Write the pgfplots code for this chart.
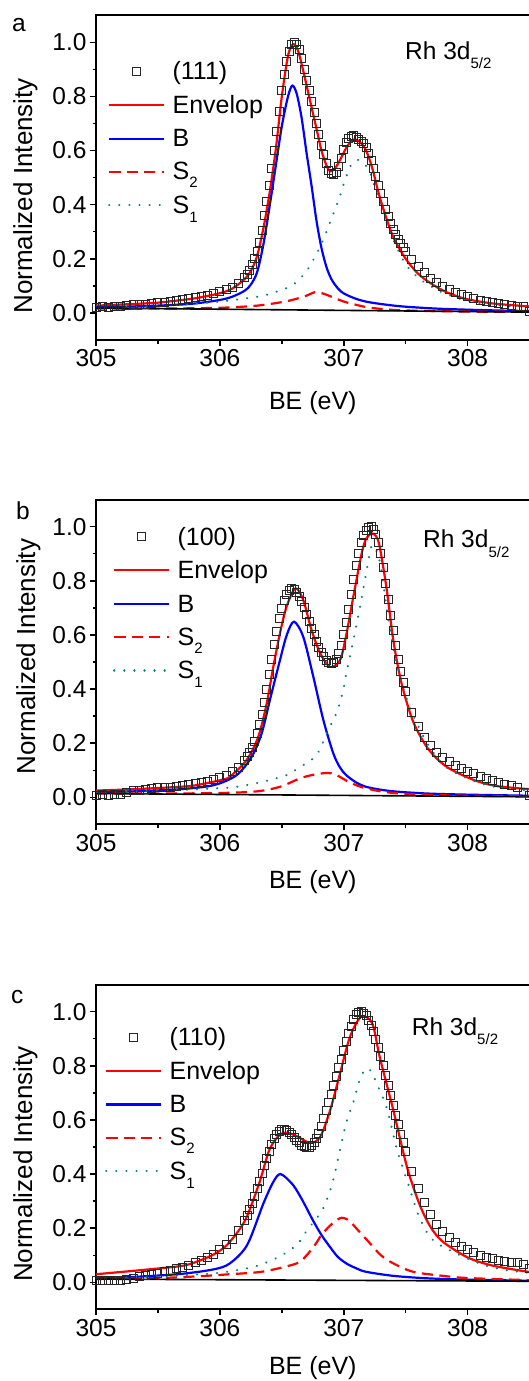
\documentclass[border=0pt]{standalone}
\usepackage{fontspec}
\setmainfont{Liberation Sans}
\usepackage{pgfplots}
\pgfplotsset{compat=1.18}
\definecolor{tealA}{RGB}{0,128,128}
\newcommand{\sub}[2][-8pt]{\raisebox{#1}{\fontsize{15}{15}\selectfont #2}}
\newcommand{\st}{\rule[-6pt]{0pt}{24pt}}
\pgfplotsset{
 panel/.style={
  scale only axis, width=433.6pt, height=324.8pt,
  xmin=305, xmax=308.5, ymin=-0.1, ymax=1.1,
  xtick={305,306,307,308}, minor x tick num=1,
  ytick={0,0.2,0.4,0.6,0.8,1.0}, minor y tick num=1,
  tick align=outside, xtick pos=left, ytick pos=left,
  major tick length=6pt, minor tick length=3.5pt,
  tick style={line width=1.5pt, black},
  axis line style={line width=2pt},
  /pgf/number format/assume math mode=true,
  tick label style={font=\fontsize{24.5}{29}\selectfont},
  yticklabel style={/pgf/number format/fixed, /pgf/number format/fixed zerofill, /pgf/number format/precision=1},
  xticklabel style={/pgf/number format/1000 sep={}},
  xlabel={BE (eV)}, ylabel={Normalized Intensity},
  xlabel style={font=\fontsize{25}{30}\selectfont, anchor=center},
  ylabel style={font=\fontsize{26}{31}\selectfont, anchor=center},
  legend cell align=left,
  legend style={draw=none, fill=none, inner sep=0pt, outer sep=0pt, anchor=north west,
     font=\fontsize{25}{30}\selectfont, row sep=10pt, column sep=5.3pt, nodes={inner sep=2pt}},
  legend image code/.code={\draw[mark repeat=2,mark phase=2,##1] plot coordinates {(0pt,0pt) (27.5pt,0pt) (55pt,0pt)};},
 },
 dat/.style={only marks, mark=square, mark size=4pt, mark options={line width=1pt, draw=black!85}},
 env/.style={red, line width=2.2pt, smooth, tension=0.5, no marks},
 bb/.style={blue, line width=2.2pt, smooth, tension=0.5, no marks},
 ss2/.style={red, line width=2.2pt, dash pattern=on 11pt off 6.5pt, smooth, tension=0.5, no marks},
 ss1/.style={tealA, line width=2.3pt, line cap=round, dash pattern=on 0.1pt off 10pt, smooth, tension=0.5, no marks},
 bgl/.style={black, line width=1.6pt, no marks, forget plot},
}
\begin{document}
\begin{tikzpicture}
\useasboundingbox (0pt,0pt) rectangle (528pt,-1381pt);
% ---------------- panel a ----------------
\begin{axis}[panel, at={(96pt,-340pt)}, anchor=south west,
  xlabel style={at={(axis description cs:0.5,-0.1945)}},
  ylabel style={at={(axis description cs:-0.163,0.444)}},
  legend style={at={(axis description cs:0.0277,0.863)}}]
\addplot[dat] coordinates {(305.00,0.020)(305.05,0.022)(305.10,0.020)(305.15,0.024)(305.20,0.022)(305.25,0.028)(305.30,0.030)(305.35,0.031)(305.40,0.033)(305.45,0.036)(305.50,0.038)(305.55,0.040)(305.60,0.044)(305.65,0.047)(305.70,0.050)(305.75,0.052)(305.80,0.057)(305.85,0.060)(305.90,0.064)(305.95,0.070)(306.00,0.078)(306.05,0.085)(306.10,0.095)(306.15,0.110)
(306.20,0.130)(306.22,0.142)(306.24,0.158)(306.26,0.178)(306.28,0.200)(306.30,0.228)(306.32,0.262)(306.34,0.305)(306.36,0.360)(306.38,0.410)(306.40,0.470)(306.42,0.535)(306.44,0.600)(306.46,0.670)(306.48,0.745)(306.50,0.820)(306.52,0.880)(306.54,0.930)(306.56,0.965)(306.58,0.990)(306.60,1.000)(306.62,0.993)(306.64,0.972)(306.66,0.940)(306.68,0.900)(306.70,0.860)(306.72,0.820)(306.74,0.780)(306.76,0.740)(306.78,0.700)(306.80,0.660)(306.82,0.620)(306.84,0.585)(306.86,0.552)(306.88,0.528)(306.90,0.515)(306.92,0.512)(306.94,0.520)(306.96,0.540)(306.98,0.570)(307.00,0.602)(307.02,0.628)(307.04,0.645)(307.06,0.653)(307.08,0.655)(307.10,0.650)(307.12,0.642)(307.14,0.635)(307.16,0.625)(307.18,0.610)(307.20,0.590)(307.22,0.565)(307.24,0.535)(307.26,0.505)(307.28,0.472)(307.30,0.440)(307.32,0.410)(307.34,0.382)(307.36,0.357)(307.38,0.332)(307.40,0.310)(307.42,0.290)(307.44,0.272)(307.46,0.255)(307.48,0.240)
(307.50,0.226)(307.55,0.197)(307.60,0.170)(307.65,0.148)(307.70,0.128)(307.75,0.112)(307.80,0.098)(307.85,0.086)(307.90,0.076)(307.95,0.067)(308.00,0.060)(308.05,0.053)(308.10,0.047)(308.15,0.042)(308.20,0.038)(308.25,0.034)(308.30,0.031)(308.35,0.028)(308.40,0.025)(308.45,0.022)(308.50,0.004)};
\addlegendentry{(111)\st}
\addplot[env] coordinates {(305.0,0.027)(305.3,0.033)(305.5,0.038)(305.6,0.043)(305.8,0.054)(306.0,0.073)(306.1,0.090)(306.2,0.125)(306.25,0.155)(306.3,0.21)(306.35,0.31)(306.4,0.44)(306.45,0.60)(306.5,0.80)(306.55,0.95)(306.59,0.993)(306.63,0.97)(306.67,0.90)(306.7,0.84)(306.74,0.76)(306.78,0.68)(306.82,0.60)(306.86,0.545)(306.89,0.523)(306.93,0.535)(306.97,0.565)(307.02,0.61)(307.06,0.635)(307.09,0.641)(307.13,0.632)(307.18,0.60)(307.23,0.535)(307.28,0.445)(307.34,0.355)(307.4,0.28)(307.5,0.20)(307.6,0.145)(307.7,0.11)(307.8,0.083)(307.9,0.064)(308.0,0.050)(308.2,0.035)(308.35,0.029)(308.5,0.024)};
\addlegendentry{Envelop\st}
\addplot[bb] coordinates {(305.0,0.021)(305.3,0.024)(305.6,0.029)(305.8,0.035)(306.0,0.048)(306.1,0.060)(306.2,0.082)(306.25,0.105)(306.3,0.15)(306.35,0.25)(306.4,0.39)(306.45,0.54)(306.5,0.69)(306.55,0.80)(306.585,0.84)(306.62,0.81)(306.66,0.72)(306.7,0.59)(306.74,0.47)(306.78,0.34)(306.82,0.24)(306.86,0.17)(306.9,0.125)(306.95,0.092)(307.0,0.072)(307.1,0.052)(307.2,0.040)(307.35,0.030)(307.5,0.023)(307.75,0.016)(308.0,0.012)(308.25,0.009)(308.5,0.007)};
\addlegendentry{B\st}
\addplot[ss2] coordinates {(305.0,0.016)(305.5,0.016)(306.0,0.019)(306.3,0.027)(306.5,0.040)(306.6,0.050)(306.7,0.064)(306.77,0.077)(306.83,0.072)(306.9,0.060)(307.0,0.042)(307.1,0.030)(307.2,0.020)(307.35,0.013)(307.5,0.009)(308.0,0.005)(308.5,0.004)};
\addlegendentry{S\sub{2}\rule[-14pt]{0pt}{24pt}}
\addplot[ss1] coordinates {(305.0,0.018)(305.5,0.025)(305.85,0.036)(306.0,0.042)(306.2,0.053)(306.35,0.064)(306.5,0.085)(306.6,0.107)(306.7,0.155)(306.8,0.235)(306.86,0.30)(306.91,0.36)(306.96,0.42)(307.01,0.49)(307.05,0.54)(307.1,0.565)(307.14,0.56)(307.2,0.53)(307.27,0.44)(307.35,0.33)(307.42,0.25)(307.5,0.18)(307.6,0.13)(307.7,0.10)(307.8,0.075)(308.0,0.044)(308.2,0.031)(308.5,0.02)};
\addlegendentry{S\sub[-9pt]{1}\st}
\addplot[bgl] coordinates {(305,0.018)(308.5,0.003)};
\node[anchor=base west, inner sep=0pt, font=\fontsize{24.5}{29}\selectfont] at (axis description cs:0.7126,0.8645) {Rh 3d\sub[-9.5pt]{5/2}};
\end{axis}
% ---------------- panel b ----------------
\begin{axis}[panel, at={(96pt,-824.4pt)}, anchor=south west,
  xlabel style={at={(axis description cs:0.5,-0.177)}},
  ylabel style={at={(axis description cs:-0.156,0.517)}},
  legend style={at={(axis description cs:0.0392,0.922)}}]
\addplot[dat] coordinates {(305.00,0.008)(305.05,0.010)(305.10,0.008)(305.15,0.010)(305.20,0.012)(305.25,0.018)(305.30,0.025)(305.35,0.027)(305.40,0.030)(305.45,0.033)(305.50,0.035)(305.55,0.036)(305.60,0.038)(305.65,0.040)(305.70,0.042)(305.75,0.046)(305.80,0.050)(305.85,0.055)(305.90,0.060)(305.95,0.066)(306.00,0.073)(306.05,0.082)(306.10,0.095)(306.15,0.110)(306.20,0.135)(306.22,0.150)(306.24,0.165)(306.26,0.185)(306.28,0.208)(306.30,0.235)(306.32,0.268)(306.34,0.305)(306.36,0.350)(306.38,0.400)(306.40,0.455)(306.42,0.510)(306.44,0.565)(306.46,0.614)(306.48,0.660)(306.50,0.698)(306.52,0.728)(306.54,0.750)(306.56,0.763)(306.58,0.770)(306.60,0.768)(306.62,0.758)(306.64,0.743)(306.66,0.725)(306.68,0.700)(306.70,0.675)(306.72,0.650)(306.74,0.625)(306.76,0.600)(306.78,0.575)(306.80,0.555)(306.82,0.535)(306.84,0.520)(306.86,0.507)(306.88,0.498)(306.90,0.495)(306.92,0.498)(306.94,0.510)(306.96,0.530)(306.98,0.560)(307.00,0.600)(307.02,0.645)(307.04,0.695)(307.06,0.750)(307.08,0.805)(307.10,0.855)(307.12,0.900)(307.14,0.940)(307.16,0.968)(307.18,0.987)(307.20,0.998)(307.22,1.000)(307.24,0.990)(307.26,0.970)(307.28,0.940)(307.30,0.900)(307.32,0.850)(307.34,0.790)(307.36,0.730)(307.38,0.670)(307.40,0.615)(307.42,0.560)(307.44,0.510)(307.46,0.465)(307.48,0.425)(307.50,0.390)(307.55,0.315)(307.60,0.260)(307.65,0.222)(307.70,0.190)(307.75,0.167)(307.80,0.148)(307.85,0.132)(307.90,0.118)(307.95,0.106)(308.00,0.096)(308.05,0.087)(308.10,0.078)(308.15,0.069)(308.20,0.061)(308.25,0.054)(308.30,0.048)(308.35,0.042)(308.40,0.036)(308.45,0.018)(308.50,0.008)};
\addlegendentry{(100)\st}
\addplot[env] coordinates {(305.0,0.025)(305.3,0.030)(305.68,0.039)(305.81,0.045)(306.0,0.063)(306.08,0.076)(306.216,0.138)(306.31,0.224)(306.378,0.347)(306.431,0.482)(306.485,0.606)(306.538,0.704)(306.61,0.772)(306.673,0.729)(306.74,0.618)(306.81,0.532)(306.89,0.482)(306.97,0.507)(307.02,0.60)(307.077,0.741)(307.144,0.90)(307.18,0.955)(307.225,0.975)(307.26,0.965)(307.29,0.926)(307.346,0.77)(307.40,0.58)(307.467,0.42)(307.56,0.28)(307.68,0.18)(307.83,0.113)(308.05,0.064)(308.23,0.042)(308.5,0.03)};
\addlegendentry{Envelop\st}
\addplot[bb] coordinates {(305.0,0.018)(305.3,0.022)(305.68,0.030)(305.95,0.045)(306.135,0.082)(306.257,0.15)(306.337,0.236)(306.404,0.36)(306.485,0.507)(306.54,0.60)(306.598,0.649)(306.673,0.593)(306.754,0.446)(306.835,0.286)(306.915,0.163)(306.97,0.11)(307.02,0.082)(307.1,0.055)(307.18,0.039)(307.3,0.028)(307.43,0.021)(307.68,0.014)(308.0,0.010)(308.5,0.006)};
\addlegendentry{B\st}
\addplot[ss2] coordinates {(305.0,0.014)(305.5,0.014)(306.0,0.016)(306.297,0.022)(306.485,0.039)(306.646,0.07)(306.75,0.083)(306.86,0.09)(306.93,0.085)(307.02,0.062)(307.1,0.045)(307.18,0.033)(307.3,0.022)(307.43,0.015)(307.7,0.009)(308.0,0.006)(308.5,0.004)};
\addlegendentry{S\sub{2}\rule[-14pt]{0pt}{24pt}}
\addplot[ss1] coordinates {(305.0,0.018)(305.5,0.024)(306.0,0.034)(306.135,0.039)(306.35,0.058)(306.54,0.082)(306.63,0.107)(306.754,0.144)(306.81,0.18)(306.86,0.236)(306.915,0.285)(306.956,0.33)(306.996,0.396)(307.02,0.458)(307.077,0.58)(307.13,0.70)(307.185,0.84)(307.225,0.93)(307.265,0.91)(307.3,0.85)(307.346,0.70)(307.4,0.55)(307.43,0.49)(307.51,0.36)(307.615,0.25)(307.7,0.18)(307.83,0.11)(308.05,0.06)(308.23,0.038)(308.5,0.025)};
\addlegendentry{S\sub[-9pt]{1}\st}
\addplot[bgl] coordinates {(305,0.014)(308.5,0.002)};
\node[anchor=base west, inner sep=0pt, font=\fontsize{24.5}{29}\selectfont] at (axis description cs:0.754,0.8513) {Rh 3d\sub[-9.5pt]{5/2}};
\end{axis}
% ---------------- panel c ----------------
\begin{axis}[panel, at={(96pt,-1309.4pt)}, anchor=south west,
  xlabel style={at={(axis description cs:0.5,-0.179)}},
  ylabel style={at={(axis description cs:-0.163,0.447)}},
  legend style={at={(axis description cs:0.0208,0.874)}}]
\addplot[dat] coordinates {(305.00,0.005)(305.05,0.005)(305.10,0.006)(305.15,0.005)(305.20,0.008)(305.25,0.012)(305.30,0.016)(305.35,0.020)(305.40,0.025)(305.45,0.030)(305.50,0.034)(305.55,0.039)(305.60,0.044)(305.65,0.050)(305.70,0.056)(305.75,0.063)(305.80,0.072)(305.85,0.081)(305.90,0.092)(305.95,0.104)(306.00,0.120)(306.05,0.138)(306.10,0.160)(306.15,0.190)(306.20,0.228)(306.22,0.247)(306.24,0.268)(306.26,0.292)(306.28,0.318)(306.30,0.345)(306.32,0.373)(306.34,0.402)(306.36,0.430)(306.38,0.458)(306.40,0.485)(306.42,0.510)(306.44,0.530)(306.46,0.547)(306.48,0.558)(306.50,0.565)(306.52,0.566)(306.54,0.562)(306.56,0.555)(306.58,0.545)(306.60,0.535)(306.62,0.525)(306.64,0.515)(306.66,0.507)(306.68,0.502)(306.70,0.500)(306.72,0.500)(306.74,0.505)(306.76,0.515)(306.78,0.530)(306.80,0.550)(306.82,0.575)(306.84,0.605)(306.86,0.635)(306.88,0.665)(306.90,0.695)(306.92,0.728)(306.94,0.760)(306.96,0.792)(306.98,0.825)(307.00,0.857)(307.02,0.888)(307.04,0.918)(307.06,0.945)(307.08,0.970)(307.10,0.988)(307.12,0.998)(307.14,1.000)(307.16,0.995)(307.18,0.985)(307.20,0.968)(307.22,0.948)(307.24,0.925)(307.26,0.898)(307.28,0.868)(307.30,0.835)(307.32,0.800)(307.34,0.765)(307.36,0.728)(307.38,0.692)(307.40,0.655)(307.42,0.618)(307.44,0.582)(307.46,0.548)(307.48,0.515)(307.50,0.483)(307.55,0.410)(307.60,0.345)(307.65,0.295)(307.70,0.250)(307.75,0.215)(307.80,0.188)(307.85,0.166)(307.90,0.148)(307.95,0.133)(308.00,0.120)(308.05,0.109)(308.10,0.100)(308.15,0.093)(308.20,0.087)(308.25,0.082)(308.30,0.078)(308.35,0.075)(308.40,0.072)(308.45,0.066)(308.50,0.050)};
\addlegendentry{(110)\st}
\addplot[env] coordinates {(305.0,0.030)(305.36,0.045)(305.68,0.060)(305.8,0.074)(305.95,0.103)(306.05,0.135)(306.15,0.19)(306.22,0.245)(306.32,0.37)(306.40,0.49)(306.48,0.544)(306.54,0.553)(306.62,0.54)(306.73,0.515)(306.81,0.538)(306.89,0.636)(306.97,0.772)(307.05,0.907)(307.14,0.981)(307.23,0.957)(307.29,0.833)(307.40,0.636)(307.51,0.427)(307.61,0.29)(307.70,0.205)(307.80,0.15)(308.0,0.092)(308.2,0.062)(308.5,0.038)};
\addlegendentry{Envelop\st}
\addplot[bb] coordinates {(305.0,0.015)(305.3,0.020)(305.68,0.031)(305.95,0.048)(306.08,0.07)(306.22,0.138)(306.35,0.29)(306.43,0.37)(306.49,0.40)(306.59,0.36)(306.67,0.30)(306.75,0.23)(306.82,0.175)(306.89,0.13)(306.95,0.095)(307.02,0.07)(307.1,0.052)(307.18,0.039)(307.4,0.024)(307.67,0.015)(308.0,0.010)(308.5,0.006)};
\addlegendentry{B\st}
\addplot[ss2] coordinates {(305.0,0.012)(305.5,0.016)(305.81,0.022)(306.08,0.03)(306.35,0.04)(306.62,0.07)(306.7,0.10)(306.77,0.14)(306.82,0.175)(306.89,0.21)(306.96,0.235)(307.0,0.238)(307.05,0.225)(307.12,0.19)(307.2,0.15)(307.3,0.10)(307.4,0.07)(307.56,0.039)(307.8,0.024)(308.0,0.016)(308.5,0.008)};
\addlegendentry{S\sub{2}\rule[-14pt]{0pt}{24pt}}
\addplot[ss1] coordinates {(305.0,0.014)(305.5,0.022)(305.95,0.033)(306.2,0.05)(306.32,0.064)(306.48,0.095)(306.62,0.138)(306.70,0.19)(306.83,0.27)(306.91,0.37)(306.97,0.49)(307.02,0.59)(307.08,0.67)(307.13,0.75)(307.18,0.79)(307.22,0.78)(307.28,0.72)(307.35,0.64)(307.43,0.49)(307.53,0.35)(307.61,0.24)(307.72,0.156)(307.94,0.10)(308.13,0.064)(308.3,0.046)(308.5,0.035)};
\addlegendentry{S\sub[-9pt]{1}\st}
\addplot[bgl] coordinates {(305,0.012)(308.5,0.004)};
\node[anchor=base west, inner sep=0pt, font=\fontsize{24.5}{29}\selectfont] at (axis description cs:0.728,0.8448) {Rh 3d\sub[-9.5pt]{5/2}};
\end{axis}
\begin{scope}[every node/.style={anchor=base west, inner sep=0pt, font=\fontsize{24.5}{29}\selectfont}]
\node at (12pt,-31.7pt) {a};
\node at (16pt,-519.3pt) {b};
\node at (11pt,-1003.3pt) {c};
\end{scope}
\end{tikzpicture}
\end{document}
